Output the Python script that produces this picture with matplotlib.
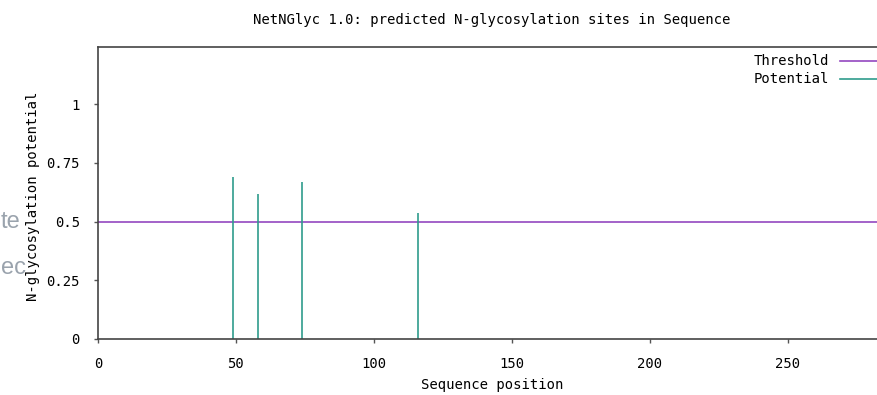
import matplotlib
matplotlib.use('Agg')
import matplotlib.pyplot as plt

# データ
positions = [49, 58, 74, 116]           # 配列上の位置
potential = [0.688, 0.617, 0.669, 0.537]  # N-glycosylation potential
threshold = 0.5
xticks = [0, 50, 100, 150, 200, 250]
yticks = [0, 0.25, 0.5, 0.75, 1]
ytick_labels = ['0', '0.25', '0.5', '0.75', '1']

purple = '#9448c0'
teal = '#2f9c8c'
font = 'DejaVu Sans Mono'
fs = 10

W, H = 878, 395
fig = plt.figure(figsize=(W / 100, H / 100), dpi=100)
ax = fig.add_axes([98 / W, 56 / H, 800 / W, 292 / H])
ax.set_xlim(0, 290)
ax.set_ylim(0, 1.243)

# 閾値とスパイク
ax.axhline(threshold, color=purple, lw=1.2, label='Threshold')
ax.vlines(positions, 0, potential, color=teal, lw=1.2, label='Potential')

ax.set_xticks(xticks)
ax.set_xticklabels([str(t) for t in xticks], fontfamily=font, fontsize=fs)
ax.set_yticks(yticks)
ax.set_yticklabels(ytick_labels, fontfamily=font, fontsize=fs)
ax.tick_params(direction='out', length=3, width=1, color='#555555', pad=10)
for s in ax.spines.values():
    s.set_color('#444444')
    s.set_linewidth(1.2)

# タイトルとラベル
fig.text(492 / W, 1 - 20 / H, 'NetNGlyc 1.0: predicted N-glycosylation sites in Sequence',
         ha='center', va='center', fontfamily=font, fontsize=fs)
fig.text(492 / W, 1 - 385 / H, 'Sequence position', ha='center', va='center',
         fontfamily=font, fontsize=fs)
fig.text(33 / W, 1 - 196 / H, 'N-glycosylation potential', ha='center', va='center',
         rotation=90, fontfamily=font, fontsize=fs)

# 凡例 (右上)
fig.text(829 / W, 1 - 61 / H, 'Threshold', ha='right', va='center', fontfamily=font, fontsize=fs)
fig.text(829 / W, 1 - 79 / H, 'Potential', ha='right', va='center', fontfamily=font, fontsize=fs)
fig.add_artist(plt.Line2D([840 / W, 1.0], [1 - 61 / H] * 2, color=purple, lw=1.2))
fig.add_artist(plt.Line2D([840 / W, 1.0], [1 - 79 / H] * 2, color=teal, lw=1.2))

# 左端の灰色の文字
for txt, yy in [('te', 222), ('ec', 268)]:
    fig.text(1 / W, 1 - yy / H, txt, ha='left', va='center', fontsize=17,
             color='#9aa3ad', family='Liberation Sans')

fig.savefig('out.png', dpi=100)
